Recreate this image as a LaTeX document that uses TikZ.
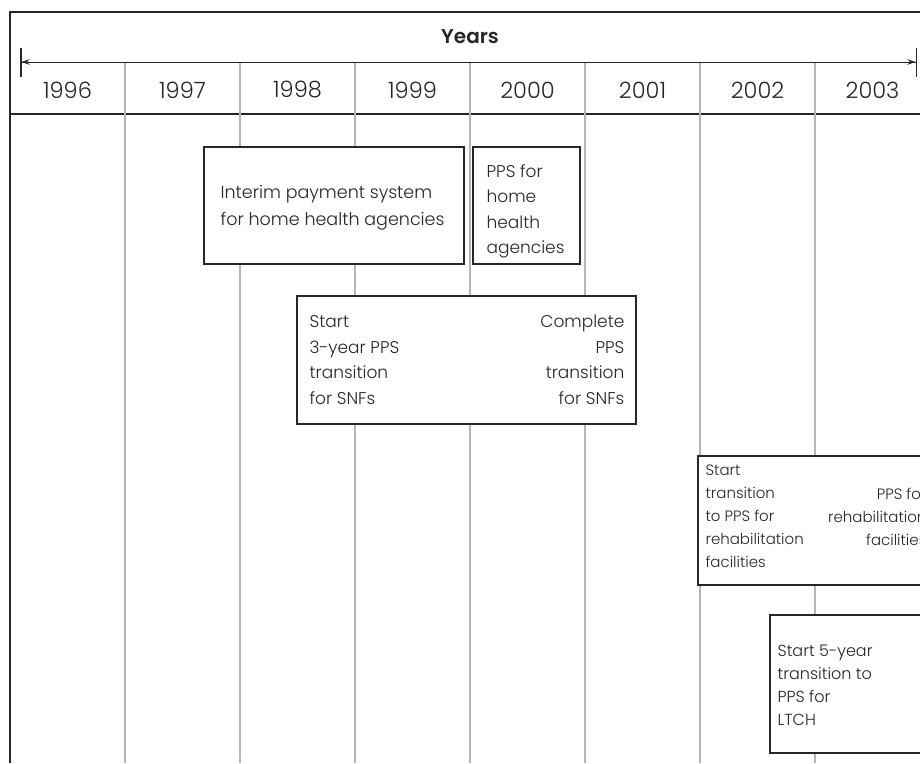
\documentclass[tikz,border=0pt]{standalone}
\usepackage{fontspec}
\setmainfont{Poppins}[UprightFont={* Light},BoldFont={* SemiBold}]
\usetikzlibrary{arrows.meta,positioning}
\definecolor{framegray}{HTML}{262626}
\definecolor{gridblue}{HTML}{B2B4C6}
\newcommand{\notefont}{\fontsize{17}{25.5}\selectfont}
\newcommand{\widefont}{\fontsize{17.5}{27}\selectfont}
\newcommand{\smallnotefont}{\fontsize{15}{23}\selectfont}
\newcommand{\ltchfont}{\fontsize{16}{23}\selectfont}
\newcommand{\yearfont}{\fontsize{22.5}{26}\selectfont}

\begin{document}
\begin{tikzpicture}[x=1pt,y=-1pt]
  \tikzstyle{grid}=[draw=gridblue,line width=1.3pt]
  \tikzstyle{event}=[draw=framegray,fill=white,line width=1.2pt,inner sep=0pt]
  \tikzstyle{note}=[align=left,inner sep=0pt,text=framegray,font=\notefont]
  \tikzstyle{year}=[inner sep=0pt,text=framegray,font=\yearfont]
  \tikzstyle{span}=[framegray,line width=1pt,{Bar[width=29pt,line width=1.5pt]Stealth[length=8pt,width=5.5pt]}-{Stealth[length=8pt,width=5.5pt]Bar[width=29pt,line width=1.5pt]}]
  \useasboundingbox (0,0) rectangle (920,763);
  \clip (0,0) rectangle (920,763);
  % frame
  \draw[framegray,line width=2pt] (10,763) -- (10,12) -- (920,12);
  \draw[framegray,line width=1.5pt] (10,114) -- (920,114);
  % year dividers
  \draw[grid] (125,63) -- (125,763);
  \draw[grid] (240,63) -- (240,763);
  \draw[grid] (355,63) -- (355,763);
  \draw[grid] (470,63) -- (470,763);
  \draw[grid] (585,63) -- (585,763);
  \draw[grid] (700,63) -- (700,763);
  \draw[grid] (815,63) -- (815,763);
  % axis
  \coordinate (axisstart) at (20,62);
  \coordinate (axisend) at (917,62);
  \draw[span] (axisstart) -- (axisend);
  \node[year,font=\fontsize{20}{24}\selectfont\bfseries] (years) at (470,37) {Years};
  \node[year] (y1996) at (67.5,90) {1996};
  \node[year] (y1997) at (182.5,90) {1997};
  \node[year] (y1998) at (297.5,90) {1998};
  \node[year] (y1999) at (412.5,90) {1999};
  \node[year] (y2000) at (527.5,90) {2000};
  \node[year] (y2001) at (642.5,90) {2001};
  \node[year] (y2002) at (757.5,90) {2002};
  \node[year] (y2003) at (872.5,90) {2003};

  % home health agencies
  \node[event,minimum width=260pt,minimum height=117pt] (interim) at (334,205.5) {};
  \node[note,font=\widefont,right=17pt of interim.west,yshift=-2pt] (interimtext) {Interim payment system\\for home health agencies};
  \node[event,minimum width=107pt,minimum height=117pt] (hhpps) at (526.5,205.5) {};
  \node[note,right=14pt of hhpps.west,yshift=-6pt] (hhppstext) {PPS for\\home\\health\\agencies};

  % SNFs
  \node[event,minimum width=339pt,minimum height=128pt] (snf) at (466.5,360) {};
  \node[note,right=13pt of snf.west] (snfstart) {Start\\3-year PPS\\transition\\for SNFs};
  \node[note,align=right,left=12pt of snf.east] (snfend) {Complete\\PPS\\transition\\for SNFs};

  % rehabilitation facilities
  \node[event,minimum width=236pt,minimum height=129pt] (rehab) at (816,520.5) {};
  \node[note,font=\smallnotefont,right=8pt of rehab.west,yshift=4pt] (rehabstart) {Start\\transition\\to PPS for\\rehabilitation\\facilities};
  \node[note,font=\smallnotefont,align=right,left=8pt of rehab.east,yshift=4pt] (rehabend) {PPS for\\rehabilitation\\facilities};

  % LTCH
  \node[event,minimum width=160pt,minimum height=138pt] (ltch) at (850,684) {};
  \node[note,font=\ltchfont,right=8pt of ltch.west,yshift=-1pt] (ltchtext) {Start 5-year\\transition to\\PPS for\\LTCH};
\end{tikzpicture}
\end{document}
